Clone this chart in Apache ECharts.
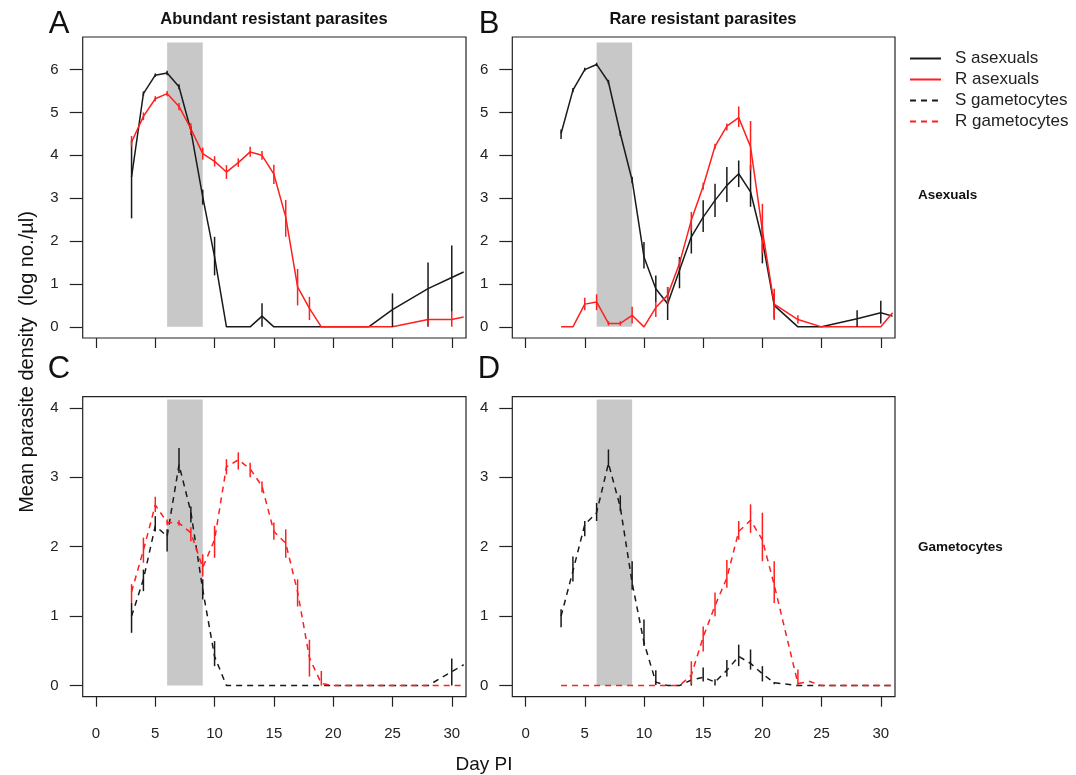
<!DOCTYPE html>
<html>
<head>
<meta charset="utf-8">
<script src="https://cdn.jsdelivr.net/npm/echarts@6/dist/echarts.min.js"></script>
<style>
html,body{margin:0;padding:0;background:#fff;}
#chart{width:1076px;height:775px;}
</style>
</head>
<body>
<div id="chart"></div>
<script>
// ---- tick labels ----
const xTicks = [0, 5, 10, 15, 20, 25, 30];
const yTicksAsex = [0, 1, 2, 3, 4, 5, 6];
const yTicksGam = [0, 1, 2, 3, 4];
const treatmentDays = [6, 9];

// ---- data: [day, mean, lowerBar, upperBar] ----
// Panel A: abundant resistant parasites, asexuals
const aSasex = [[3,3.5,2.53,4.35],[4,5.44,5.39,5.49],[5,5.87,5.83,5.91],[6,5.92,5.87,5.97],[7,5.6,5.54,5.66],[8,4.58,4.48,4.68],[9,3.03,2.85,3.2],[10,1.63,1.2,2.1],[11,0],[12,0],[13,0],[14,0.25,0,0.55],[15,0],[16,0],[17,0],[18,0],[19,0],[20,0],[21,0],[23,0],[25,0.4,0,0.78],[28,0.89,0,1.5],[30,1.15,0.35,1.9],[31,1.28]];
const aRasex = [[3,4.31,4.2,4.45],[4,4.91,4.82,5.0],[5,5.32,5.26,5.38],[6,5.44,5.38,5.5],[7,5.14,5.05,5.22],[8,4.62,4.5,4.75],[9,4.04,3.9,4.18],[10,3.86,3.74,3.98],[11,3.61,3.45,3.77],[12,3.83,3.73,3.93],[13,4.08,3.97,4.2],[14,4.0,3.9,4.1],[15,3.56,3.33,3.78],[16,2.56,2.1,2.96],[17,0.93,0.5,1.35],[18,0.43,0.16,0.7],[19,0],[20,0],[21,0],[23,0],[25,0],[28,0.17,0.02,0.2],[30,0.17,0,0.35],[31,0.23]];
// Panel B: rare resistant parasites, asexuals
const bSasex = [[3,4.51,4.38,4.6],[4,5.52,5.47,5.57],[5,6.0,5.96,6.04],[6,6.12,6.08,6.16],[7,5.71,5.66,5.76],[8,4.51,4.45,4.57],[9,3.42,3.35,3.5],[10,1.63,1.36,1.98],[11,0.89,0.58,1.2],[12,0.54,0.16,0.93],[13,1.32,0.9,1.63],[14,2.1,1.71,2.37],[15,2.56,2.21,2.95],[16,2.95,2.56,3.34],[17,3.3,2.91,3.73],[18,3.57,3.26,3.88],[19,3.15,2.8,3.77],[20,2.02,1.48,2.33],[21,0.5,0.19,0.78],[23,0],[25,0],[28,0.19,0,0.39],[30,0.33,0.08,0.61],[31,0.25]];
const bRasex = [[3,0],[4,0],[5,0.53,0.39,0.68],[6,0.58,0.39,0.76],[7,0.08,0.03,0.13],[8,0.08,0.03,0.13],[9,0.27,0.08,0.47],[10,0],[11,0.45,0.23,0.58],[12,0.74,0.54,0.93],[13,1.48,1.38,1.58],[14,2.49,2.25,2.68],[15,3.28,3.2,3.36],[16,4.21,4.15,4.27],[17,4.68,4.58,4.74],[18,4.88,4.66,5.14],[19,4.2,3.65,4.8],[20,2.25,1.71,2.87],[21,0.53,0.16,0.89],[23,0.17,0.08,0.27],[25,0],[28,0],[30,0],[31,0.33]];
// Panel C: abundant resistant parasites, gametocytes
const cSgam = [[3,1.0,0.76,1.19],[4,1.53,1.36,1.67],[5,2.3,2.22,2.44],[6,2.15,1.93,2.25],[7,3.18,3.06,3.42],[8,2.5,2.35,2.58],[9,1.38,1.24,1.53],[10,0.42,0.28,0.64],[11,0],[12,0],[13,0],[14,0],[15,0],[16,0],[17,0],[18,0],[19,0],[20,0],[21,0],[23,0],[25,0],[28,0],[30,0.2,0,0.39],[31,0.3]];
const cRgam = [[3,1.35,1.19,1.46],[4,1.95,1.77,2.13],[5,2.6,2.5,2.72],[6,2.35,2.31,2.39],[7,2.34,2.3,2.38],[8,2.2,2.08,2.28],[9,1.7,1.57,1.89],[10,2.1,1.84,2.3],[11,3.15,3.04,3.26],[12,3.25,3.11,3.36],[13,3.12,3.0,3.21],[14,2.87,2.78,2.94],[15,2.22,2.1,2.35],[16,2.05,1.84,2.25],[17,1.35,1.14,1.53],[18,0.4,0.13,0.66],[19,0.03,0,0.21],[20,0],[21,0],[23,0],[25,0],[28,0],[30,0],[31,0]];
// Panel D: rare resistant parasites, gametocytes
const dSgam = [[3,1.0,0.84,1.1],[4,1.65,1.5,1.86],[5,2.32,2.15,2.37],[6,2.49,2.37,2.63],[7,3.2,3.15,3.4],[8,2.57,2.51,2.74],[9,1.48,1.38,1.79],[10,0.62,0.57,0.95],[11,0.05,0.01,0.22],[12,0],[13,0],[14,0.08,0,0.13],[15,0.12,0.06,0.26],[16,0.05,0,0.09],[17,0.22,0.13,0.37],[18,0.42,0.28,0.59],[19,0.32,0.23,0.52],[20,0.17,0.06,0.28],[21,0.04,0.02,0.05],[23,0],[25,0],[28,0],[30,0],[31,0]];
const dRgam = [[3,0],[4,0],[5,0],[6,0],[7,0],[8,0],[9,0],[10,0],[11,0],[12,0],[13,0],[14,0.15,0.02,0.35],[15,0.7,0.49,0.85],[16,1.15,1.0,1.34],[17,1.55,1.41,1.81],[18,2.22,2.1,2.37],[19,2.38,2.2,2.61],[20,2.1,1.79,2.49],[21,1.45,1.19,1.79],[23,0.03,0,0.23],[24,0.06],[25,0],[28,0],[30,0],[31,0]];

// ---- styles ----
const BLACK = '#1a1a1a';
const RED = '#ff1f1f';
const GREY = '#c8c8c8';
const FONT = '"Liberation Sans", Arial, sans-serif';
const DASH = [6, 5];

const grids = [
  {left: 82.7, top: 37, width: 383.3, height: 301},
  {left: 512.3, top: 37, width: 382.7, height: 301},
  {left: 82.7, top: 396.7, width: 383.3, height: 300},
  {left: 512.3, top: 396.7, width: 382.7, height: 300}
].map(g => Object.assign({show: true, borderColor: '#222', borderWidth: 1.2, backgroundColor: 'rgba(0,0,0,0)'}, g));

const xAxes = [0,1,2,3].map(i => ({
  gridIndex: i, type: 'value', min: -1.12, max: 31.2, position: 'bottom',
  axisLine: {show: false, onZero: false}, splitLine: {show: false},
  axisTick: {show: true, inside: false, length: 10, customValues: xTicks, lineStyle: {color: '#222', width: 1.2}},
  axisLabel: {show: i >= 2, customValues: xTicks, margin: 30, fontSize: 15, color: '#222', fontFamily: FONT}
}));
const yAxes = [0,1,2,3].map(i => {
  const asex = i < 2;
  const ticks = asex ? yTicksAsex : yTicksGam;
  return {
    gridIndex: i, type: 'value', position: 'left',
    min: asex ? -0.26 : -0.16, max: asex ? 6.76 : 4.16,
    axisLine: {show: false, onZero: false}, splitLine: {show: false},
    axisTick: {show: true, inside: false, length: 13, customValues: ticks, lineStyle: {color: '#222', width: 1.2}},
    axisLabel: {show: true, customValues: ticks, margin: 24, fontSize: 15, color: '#222', fontFamily: FONT}
  };
});

const series = [];
function shade(i, top) {
  series.push({
    type: 'custom', xAxisIndex: i, yAxisIndex: i, z: 1, silent: true,
    data: [[treatmentDays[0], treatmentDays[1], top]],
    renderItem: function (params, api) {
      const p1 = api.coord([api.value(0), 0]);
      const p2 = api.coord([api.value(1), api.value(2)]);
      return {type: 'rect', shape: {x: p1[0], y: p2[1], width: p2[0] - p1[0], height: p1[1] - p2[1]}, style: {fill: GREY}};
    }
  });
}
function addSeries(i, name, rows, color, dashed) {
  series.push({
    name: name, type: 'line', xAxisIndex: i, yAxisIndex: i, z: 3,
    data: rows.map(r => [r[0], r[1]]),
    symbol: 'none', showSymbol: false, color: color,
    lineStyle: {color: color, width: 1.5, type: dashed ? DASH : 'solid'},
    animation: false
  });
  series.push({
    type: 'custom', xAxisIndex: i, yAxisIndex: i, z: 4, silent: true,
    data: rows.filter(r => r.length >= 4).map(r => [r[0], r[2], r[3]]),
    renderItem: function (params, api) {
      const a = api.coord([api.value(0), api.value(1)]);
      const b = api.coord([api.value(0), api.value(2)]);
      return {type: 'line', shape: {x1: a[0], y1: a[1], x2: b[0], y2: b[1]}, style: {stroke: color, lineWidth: 1.5}};
    },
    animation: false
  });
}
shade(0, 6.63); shade(1, 6.63); shade(2, 4.12); shade(3, 4.12);
addSeries(0, 'S asexuals', aSasex, BLACK, false);
addSeries(0, 'R asexuals', aRasex, RED, false);
addSeries(1, 'S asexuals', bSasex, BLACK, false);
addSeries(1, 'R asexuals', bRasex, RED, false);
addSeries(2, 'S gametocytes', cSgam, BLACK, true);
addSeries(2, 'R gametocytes', cRgam, RED, true);
addSeries(3, 'S gametocytes', dSgam, BLACK, true);
addSeries(3, 'R gametocytes', dRgam, RED, true);

function txt(x, y, text, font, align, extra) {
  return Object.assign({
    type: 'text', x: x, y: y, silent: true,
    style: {text: text, fill: '#111', font: font + ' ' + FONT, textAlign: align || 'center', textVerticalAlign: 'middle'}
  }, extra || {});
}

const chart = echarts.init(document.getElementById('chart'), null, {renderer: 'canvas'});
chart.setOption({
  animation: false,
  backgroundColor: '#fff',
  grid: grids, xAxis: xAxes, yAxis: yAxes, series: series,
  legend: {
    data: ['S asexuals', 'R asexuals', 'S gametocytes', 'R gametocytes'],
    orient: 'vertical', left: 904, top: 45, itemWidth: 31, itemHeight: 14, itemGap: 4,
    itemStyle: {opacity: 0},
    textStyle: {fontSize: 17, color: '#222', fontFamily: FONT, padding: [0, 0, 0, 9]}
  },
  graphic: [
    txt(59, 24, 'A', '31px'),
    txt(489, 24, 'B', '31px'),
    txt(59, 369, 'C', '31px'),
    txt(489, 369, 'D', '31px'),
    txt(274, 19, 'Abundant resistant parasites', 'bold 16.5px'),
    txt(703, 19, 'Rare resistant parasites', 'bold 16.5px'),
    txt(918, 195, 'Asexuals', 'bold 13.5px', 'left'),
    txt(918, 547, 'Gametocytes', 'bold 13.5px', 'left'),
    txt(484, 765, 'Day PI', '19px'),
    txt(27, 362, 'Mean parasite density  (log no./µl)', '20px', 'center', {rotation: Math.PI / 2})
  ]
});
</script>
</body>
</html>
